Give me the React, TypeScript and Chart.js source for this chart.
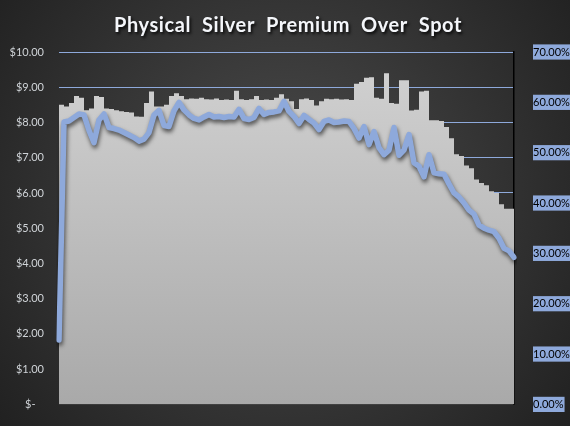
import React, { useEffect, useRef } from "react";
import { Chart, registerables } from "chart.js";

Chart.register(...registerables);

const TITLE = "Physical  Silver  Premium  Over  Spot";

const premiumDollars = [
  8.40, 8.50, 8.45, 8.55, 8.75, 8.70, 8.35, 8.40, 8.75, 8.72,
  8.40, 8.38, 8.35, 8.32, 8.30, 8.28, 8.17, 8.16, 8.55, 8.88,
  8.45, 8.45, 8.50, 8.75, 8.83, 8.75, 8.66, 8.68, 8.67, 8.70,
  8.66, 8.65, 8.68, 8.64, 8.65, 8.64, 8.90, 8.66, 8.64, 8.66,
  8.75, 8.64, 8.65, 8.64, 8.70, 8.80, 8.67, 8.60, 8.38, 8.66,
  8.68, 8.64, 8.48, 8.60, 8.67, 8.66, 8.67, 8.65, 8.66, 8.64,
  9.10, 9.15, 9.27, 9.28, 8.70, 8.67, 9.40, 8.55, 8.53, 9.20,
  9.20, 8.34, 8.36, 8.88, 8.90, 8.06, 8.06, 8.04, 7.87, 7.55,
  7.10, 7.05, 6.78, 6.70, 6.38, 6.28, 6.22, 6.05, 6.00, 5.68,
  5.55, 5.55,
];

const premiumPercent = [
  12.8, 56.1, 56.3, 57.0, 57.7, 57.5, 54.4, 52.0, 56.5, 57.7,
  55.0, 54.8, 54.5, 54.0, 53.5, 53.0, 52.3, 52.7, 54.0, 57.5,
  58.4, 55.4, 55.2, 58.3, 60.0, 58.5, 57.5, 56.8, 56.5, 57.1,
  57.6, 57.1, 57.2, 57.0, 57.2, 57.1, 58.6, 56.8, 56.6, 57.0,
  58.8, 57.6, 58.0, 58.1, 58.3, 60.2, 58.2, 57.2, 55.8, 57.4,
  56.6, 55.9, 54.6, 56.2, 56.5, 56.0, 56.1, 56.3, 56.2, 54.8,
  52.9, 55.2, 51.6, 54.2, 51.0, 49.6, 50.5, 55.0, 49.5, 50.5,
  53.6, 48.0, 47.3, 45.2, 49.6, 46.0, 45.8, 45.7, 43.8, 42.0,
  41.2, 40.0, 38.6, 37.8, 35.6, 35.0, 34.6, 34.3, 33.0, 31.0,
  30.5, 29.2,
];

const labels = premiumDollars.map((_, i) => String(i));

const BLUE = "#8EA9DB";

const bgPlugin = {
  id: "bgPlugin",
  beforeDraw(chart: any) {
    const { ctx, width, height } = chart;
    ctx.save();
    const g = ctx.createRadialGradient(285, 200, 0, 285, 200, 380);
    g.addColorStop(0, "#4c4c4c");
    g.addColorStop(1, "#1f1f1f");
    ctx.fillStyle = g;
    ctx.fillRect(0, 0, width, height);
    ctx.restore();
  },
  afterDraw(chart: any) {
    const { ctx } = chart;
    ctx.save();
    ctx.font = "bold 20px Lato";
    try { (ctx as any).letterSpacing = "0.6px"; } catch (e) {}
    ctx.textAlign = "center";
    ctx.textBaseline = "alphabetic";
    ctx.shadowColor = "rgba(0,0,0,0.85)";
    ctx.shadowBlur = 3;
    ctx.shadowOffsetX = 1.5;
    ctx.shadowOffsetY = 2;
    ctx.fillStyle = "#F4F6FA";
    ctx.fillText(TITLE, 288, 32);
    ctx.restore();
  },
};

const shadowPlugin = {
  id: "lineShadow",
  beforeDatasetDraw(chart: any, args: any) {
    if (args.index === 1) {
      const ctx = chart.ctx;
      ctx.save();
      ctx.shadowColor = "rgba(0,0,0,0.6)";
      ctx.shadowBlur = 4;
      ctx.shadowOffsetX = 1;
      ctx.shadowOffsetY = 3;
    }
  },
  afterDatasetDraw(chart: any, args: any) {
    if (args.index === 1) {
      chart.ctx.restore();
    }
  },
};

export default function App() {
  const ref = useRef<HTMLCanvasElement | null>(null);

  useEffect(() => {
    document.body.style.margin = "0";
    const canvas = ref.current;
    if (!canvas) return;
    const chart = new Chart(canvas, {
      type: "line",
      data: {
        labels,
        datasets: [
          {
            label: "Premium $",
            data: premiumDollars,
            yAxisID: "y",
            stepped: "after",
            fill: "origin",
            borderWidth: 0,
            pointRadius: 0,
            backgroundColor: (c: any) => {
              const area = c.chart.chartArea;
              if (!area) return "#C0C0C0";
              const g = c.chart.ctx.createLinearGradient(0, area.top, 0, area.bottom);
              g.addColorStop(0, "#D2D2D2");
              g.addColorStop(1, "#A9A9A9");
              return g;
            },
            order: 2,
          } as any,
          {
            label: "Premium %",
            data: premiumPercent,
            yAxisID: "y1",
            borderColor: BLUE,
            borderWidth: 5.5,
            pointRadius: 0,
            tension: 0,
            fill: false,
            borderJoinStyle: "round",
            borderCapStyle: "round",
            order: 1,
          } as any,
        ],
      },
      options: {
        animation: false,
        responsive: false,
        maintainAspectRatio: false,
        layout: { padding: { top: 52, bottom: 17, left: 0, right: 0 } },
        plugins: {
          legend: { display: false },
          title: { display: false },
          tooltip: { enabled: false },
        },
        scales: {
          x: {
            display: false,
            offset: false,
          },
          y: {
            position: "left",
            min: 0,
            max: 10,
            afterFit: (s: any) => { s.width = 59; },
            ticks: {
              stepSize: 1,
              padding: 15,
              color: "#D0D4D8",
              font: { family: "Lato", size: 11 },
              callback: (v: any) => (Number(v) === 0 ? "$-   " : "$" + Number(v).toFixed(2)),
            },
            grid: {
              color: (c: any) => (c.tick && c.tick.value === 0 ? "rgba(0,0,0,0)" : BLUE),
              lineWidth: 1,
              drawTicks: false,
            },
            border: { display: false },
          },
          y1: {
            position: "right",
            min: 0,
            max: 70,
            z: 1,
            afterFit: (s: any) => { s.width = 56; },
            ticks: {
              stepSize: 10,
              padding: 11,
              color: "#000000",
              font: { family: "Lato", size: 11 },
              showLabelBackdrop: true,
              backdropColor: BLUE,
              backdropPadding: { top: 1, bottom: 1, left: 0, right: 1 },
              callback: (v: any) => Number(v).toFixed(2) + "%",
            },
            grid: { display: false, drawOnChartArea: false },
            border: { display: true, color: "#000000", width: 1.5 },
          },
        },
      } as any,
      plugins: [bgPlugin, shadowPlugin],
    });
    return () => chart.destroy();
  }, []);

  return (
    <div style={{ position: "fixed", left: 0, top: 0, width: 570, height: 426 }}>
      <canvas ref={ref} width={570} height={426} style={{ width: 570, height: 426, display: "block" }} />
    </div>
  );
}
